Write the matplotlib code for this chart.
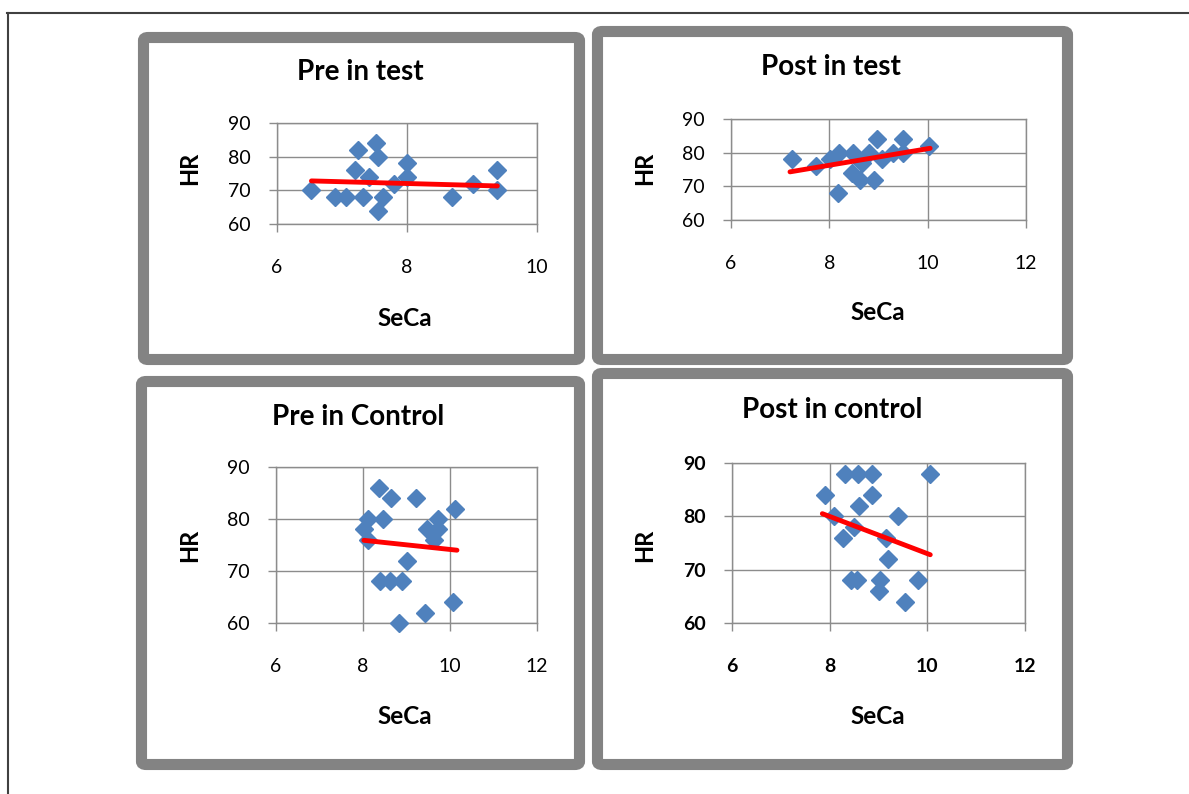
import matplotlib
matplotlib.use("Agg")
import matplotlib.pyplot as plt
from matplotlib.patches import FancyBboxPatch
from matplotlib.lines import Line2D

W, H = 1189, 794

# ---------------- data ----------------
titles = ["Pre in test", "Post in test", "Pre in Control", "Post in control"]

pre_test_seca = [6.53, 6.89, 7.06, 7.32, 7.24, 7.52, 7.56, 7.20, 7.42, 7.63, 7.56, 7.80, 8.00, 8.00, 8.70, 9.02, 9.39, 9.39]
pre_test_hr = [70, 68, 68, 68, 82, 84, 80, 76, 74, 68, 64, 72, 78, 74, 68, 72, 76, 70]
pre_test_trend_x = [6.53, 9.39]
pre_test_trend_y = [72.8, 71.3]

post_test_seca = [7.24, 7.73, 8.17, 8.02, 8.19, 8.49, 8.46, 8.63, 8.90, 8.97, 8.80, 9.07, 9.30, 9.49, 9.49, 10.03, 8.66]
post_test_hr = [78, 76, 68, 78, 80, 80, 74, 72, 72, 84, 80, 78, 80, 84, 80, 82, 77]
post_test_trend_x = [7.20, 10.05]
post_test_trend_y = [74.3, 81.3]

pre_ctrl_seca = [8.37, 8.64, 9.21, 10.12, 8.12, 8.45, 8.02, 8.12, 9.73, 9.46, 9.73, 9.64, 9.00, 8.40, 8.63, 8.90, 8.83, 9.43, 10.08]
pre_ctrl_hr = [86, 84, 84, 82, 80, 80, 78, 76, 80, 78, 78, 76, 72, 68, 68, 68, 60, 62, 64]
pre_ctrl_trend_x = [8.02, 10.16]
pre_ctrl_trend_y = [75.9, 74.0]

post_ctrl_seca = [7.90, 8.32, 8.58, 8.86, 10.06, 8.86, 8.60, 8.08, 9.40, 8.50, 8.27, 9.15, 9.20, 8.43, 8.55, 9.03, 9.00, 9.55, 9.80]
post_ctrl_hr = [84, 88, 88, 88, 88, 84, 82, 80, 80, 78, 76, 76, 72, 68, 68, 68, 66, 64, 68]
post_ctrl_trend_x = [7.85, 10.06]
post_ctrl_trend_y = [80.5, 72.8]

x_ticks_small = [6, 8, 10]
x_ticks_wide = [6, 8, 10, 12]
y_ticks_a = [60, 70, 80, 90]

# ---------------- layout (pixels) ----------------
panels = [
    dict(box=(138, 32, 585, 365), ax=(277, 123, 537, 224), xlim=(6, 10), xt=x_ticks_small,
         x=pre_test_seca, y=pre_test_hr, tx=pre_test_trend_x, ty=pre_test_trend_y,
         title_xy=(360, 72), hr_xy=(190, 168), seca_xy=(405, 318), bold_ticks=False),
    dict(box=(592, 26, 1073, 365), ax=(731, 119, 1026, 220), xlim=(6, 12), xt=x_ticks_wide,
         x=post_test_seca, y=post_test_hr, tx=post_test_trend_x, ty=post_test_trend_y,
         title_xy=(831, 67), hr_xy=(645, 168), seca_xy=(878, 313), bold_ticks=False),
    dict(box=(136, 376, 585, 770), ax=(276, 467, 537, 623), xlim=(6, 12), xt=x_ticks_wide,
         x=pre_ctrl_seca, y=pre_ctrl_hr, tx=pre_ctrl_trend_x, ty=pre_ctrl_trend_y,
         title_xy=(358, 417), hr_xy=(190, 545), seca_xy=(405, 717), bold_ticks=False),
    dict(box=(592, 368, 1073, 770), ax=(732, 463, 1025, 623), xlim=(6, 12), xt=x_ticks_wide,
         x=post_ctrl_seca, y=post_ctrl_hr, tx=post_ctrl_trend_x, ty=post_ctrl_trend_y,
         title_xy=(832, 410), hr_xy=(645, 545), seca_xy=(878, 717), bold_ticks=True),
]

FONT = "Lato"
GRID = "#8C8C8C"
BLUE = "#4F81BD"

fig = plt.figure(figsize=(W / 100, H / 100), dpi=100)
fig.patch.set_facecolor("white")

def fx(px):
    return px / W

def fy(py):
    return 1 - py / H

# outer thin frame (top and left)
fig.add_artist(Line2D([fx(7), fx(1189)], [fy(13), fy(13)], color="#404040", lw=1.5))
fig.add_artist(Line2D([fx(8), fx(8)], [fy(13), fy(794)], color="#404040", lw=1.5))

for i, p in enumerate(panels):
    x0, y0, x1, y1 = p["box"]
    inset = 5.5
    box = FancyBboxPatch((fx(x0 + inset), fy(y1 - inset)), fx(x1 - x0 - 2 * inset), (y1 - y0 - 2 * inset) / H,
                         boxstyle="round,pad=0,rounding_size=0.004",
                         transform=fig.transFigure, facecolor="white", edgecolor="#838383",
                         linewidth=8, zorder=0)
    fig.add_artist(box)

    a0, b0, a1, b1 = p["ax"]
    ax = fig.add_axes([fx(a0), fy(b1), (a1 - a0) / W, (b1 - b0) / H])
    ax.set_xlim(*p["xlim"])
    ax.set_ylim(60, 90)
    ax.set_xticks(p["xt"])
    ax.set_yticks(y_ticks_a)
    ax.grid(True, color=GRID, lw=1.0)
    ax.set_axisbelow(True)
    for s in ax.spines.values():
        s.set_color(GRID)
        s.set_linewidth(1.0)
    fw = "bold" if p["bold_ticks"] else "normal"
    ax.tick_params(axis="both", direction="out", length=6, color=GRID, width=1.0,
                   labelsize=14)
    ax.tick_params(axis="x", pad=19)
    ax.tick_params(axis="y", pad=13)
    for lab in ax.get_xticklabels() + ax.get_yticklabels():
        lab.set_fontfamily(FONT)
        lab.set_fontweight(fw)
    ax.plot(p["x"], p["y"], linestyle="none", marker="D", markersize=8.8,
            color=BLUE, markeredgecolor=BLUE, clip_on=False, zorder=3)
    ax.plot(p["tx"], p["ty"], color="#FF0000", lw=3.5, solid_capstyle="round", zorder=4)

    tx, ty = p["title_xy"]
    fig.text(fx(tx), fy(ty), titles[i], ha="center", va="center", fontsize=20,
             fontweight="bold", family=FONT)
    hx, hy = p["hr_xy"]
    fig.text(fx(hx), fy(hy), "HR", ha="center", va="center", fontsize=17,
             fontweight="bold", family=FONT, rotation=90)
    sx, sy = p["seca_xy"]
    fig.text(fx(sx), fy(sy), "SeCa", ha="center", va="center", fontsize=17.5,
             fontweight="bold", family=FONT)

fig.savefig("out.png", dpi=100, facecolor="white")
